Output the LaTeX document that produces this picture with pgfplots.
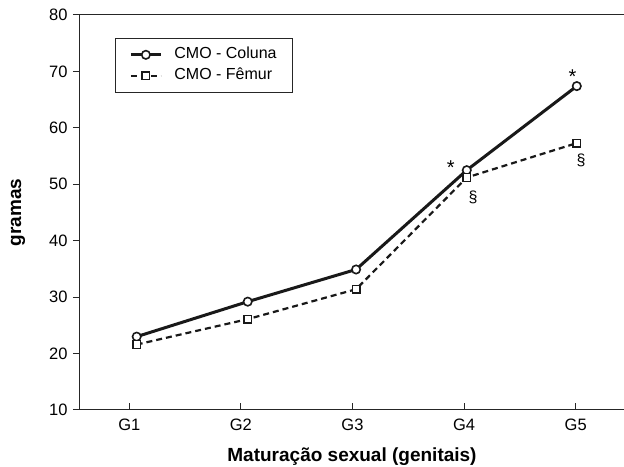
\documentclass[border=0pt]{standalone}
\usepackage{fontspec}
\setmainfont{Liberation Sans}
\usepackage{pgfplots}
\pgfplotsset{compat=1.18}
\begin{document}
\begin{tikzpicture}
\begin{axis}[
  name=ax,
  scale only axis,
  width=544pt, height=395pt,
  xmin=0.558, xmax=5.433,
  ymin=10, ymax=80,
  axis lines*=left,
  axis line style={black!85, line width=1pt, -},
  xtick={1,2,3,4,5},
  xticklabels={G1,G2,G3,G4,G5},
  ytick={10,20,30,40,50,60,70,80},
  xtick align=inside,
  ytick align=outside,
  major tick length=7pt,
  tick style={black!85, line width=1pt},
  tick label style={font=\fontsize{16.5}{19}\selectfont},
  xticklabel style={yshift=-5pt},
  yticklabel style={xshift=-2pt},
  /pgf/number format/assume math mode=true,
  xlabel={Maturação sexual (genitais)},
  ylabel={gramas},
  label style={font=\bfseries\fontsize{19}{22}\selectfont},
  xlabel style={at={(axis description cs:0.5,0)}, anchor=center, yshift=-47pt},
  ylabel style={at={(axis description cs:-0.114,0.5)}, anchor=center},
  legend style={at={(0.0643,0.942)}, anchor=north west, draw=black!85, line width=0.8pt,
    font=\fontsize{16}{19}\selectfont, inner xsep=14pt, inner ysep=7pt, column sep=10pt,
    row sep=2pt, nodes={inner sep=2pt, text height=11.5pt, text depth=3.5pt}},
  legend cell align=left,
  legend image code/.code={\draw[mark repeat=2,mark phase=2,#1] plot coordinates {(0pt,0pt) (15pt,0pt) (30pt,0pt)};},
  clip=false,
]
\addplot[black!90, line width=3pt, mark=*, mark size=4.2pt,
  mark options={solid, fill=white, draw=black!90, line width=1.6pt}]
  coordinates {(1.066,23.0) (2.061,29.2) (3.032,34.9) (4.024,52.5) (5.010,67.4)};
\addlegendentry{CMO - Coluna}
\addplot[black!90, line width=2.2pt, dash pattern=on 6pt off 4pt, mark=square*, mark size=3.8pt,
  mark options={solid, fill=white, draw=black!90, line width=1.4pt}]
  coordinates {(1.066,21.6) (2.061,26.1) (3.032,31.4) (4.024,51.2) (5.010,57.3)};
\addlegendentry{CMO - Fêmur}
\draw[black!85, line width=1pt] (rel axis cs:0,1) -- (rel axis cs:1,1);
\node[anchor=base, font=\fontsize{20}{22}\selectfont, xshift=-16pt, yshift=-4.8pt] at (axis cs:4.024,52.5) {*};
\node[anchor=base, font=\fontsize{20}{22}\selectfont, xshift=-4.4pt, yshift=2.9pt] at (axis cs:5.010,67.4) {*};
\node[anchor=base, font=\fontsize{16}{19}\selectfont, xshift=6.3pt, yshift=-24.6pt] at (axis cs:4.024,51.2) {§};
\node[anchor=base, font=\fontsize{16}{19}\selectfont, xshift=4.3pt, yshift=-22.7pt] at (axis cs:5.010,57.3) {§};
\end{axis}
\pgfresetboundingbox
\path[use as bounding box] ([xshift=-80pt,yshift=-56pt]ax.south west) rectangle ([yshift=15pt]ax.north east);
\end{tikzpicture}
\end{document}
